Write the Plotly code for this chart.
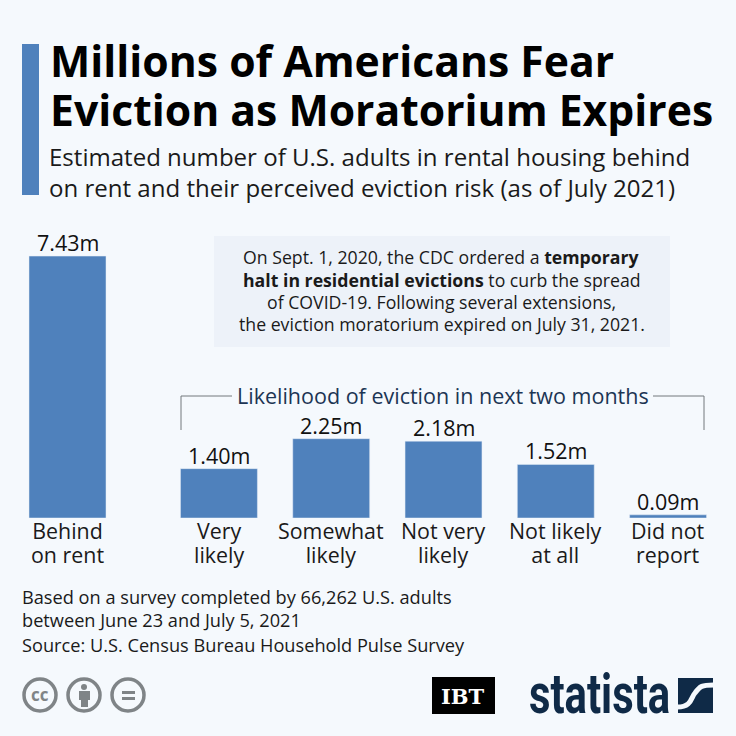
import plotly.graph_objects as go

W = H = 736
BG = "#f5f9fd"
BAR = "#4f81bc"
NAVY = "#0f2a47"
GREY = "#7f8487"
FONT = "Open Sans"

total_category = ["Behind<br>on rent"]
total_values = [7.43]
likelihood_categories = ["Very<br>likely", "Somewhat<br>likely", "Not very<br>likely", "Not likely<br>at all", "Did not<br>report"]
likelihood_values = [1.40, 2.25, 2.18, 1.52, 0.09]

title_lines = ["Millions of Americans Fear", "Eviction as Moratorium Expires"]
subtitle_lines = ["Estimated number of U.S. adults in rental housing behind",
                  "on rent and their perceived eviction risk (as of July 2021)"]
group_title = "Likelihood of eviction in next two months"
note_lines = ["On Sept. 1, 2020, the CDC ordered a <b>temporary</b>",
              "<b>halt in residential evictions</b> to curb the spread",
              "of COVID-19. Following several extensions,",
              "the eviction moratorium expired on July 31, 2021."]
footer_lines = ["Based on a survey completed by 66,262 U.S. adults",
                "between June 23 and July 5, 2021",
                "Source: U.S. Census Bureau Household Pulse Survey"]


def px(x):
    return x / W


def py(y):
    return 1 - y / H


fig = go.Figure()
fig.add_trace(go.Bar(x=total_category, y=total_values, xaxis="x", yaxis="y",
                     marker=dict(color=BAR), hoverinfo="skip"))
fig.add_trace(go.Bar(x=likelihood_categories, y=likelihood_values, xaxis="x2", yaxis="y",
                     marker=dict(color=BAR), hoverinfo="skip"))

shapes = []
annotations = []


def rect(x0, y0, x1, y1, color):
    shapes.append(dict(type="rect", xref="paper", yref="paper", x0=px(x0), x1=px(x1), y0=py(y0), y1=py(y1),
                       fillcolor=color, line=dict(width=0)))


def circle(cx, cy, r, fill, line_spec):
    shapes.append(dict(type="circle", xref="paper", yref="paper", x0=px(cx - r), x1=px(cx + r),
                       y0=py(cy + r), y1=py(cy - r), fillcolor=fill, line=line_spec))


def line(pts, color="#73787c", width=1):
    d = "M" + " L".join(f"{px(x)},{py(y)}" for x, y in pts)
    shapes.append(dict(type="path", xref="paper", yref="paper", path=d, line=dict(color=color, width=width)))


def txt(x, y, s, size, color="#1a1a1a", anchor="left", family=FONT):
    annotations.append(dict(x=px(x), y=py(y), xref="paper", yref="paper", text=s, showarrow=False,
                            xanchor=anchor, yanchor="middle", align=anchor,
                            font=dict(family=family, size=size, color=color)))


def bar_labels(xref, cats, vals):
    for c, v in zip(cats, vals):
        annotations.append(dict(x=c, y=v, xref=xref, yref="y", text=f"{v:.2f}m", showarrow=False,
                                xanchor="center", yanchor="bottom", yshift=-3,
                                font=dict(family=FONT, size=21.5, color="#111111", weight=500)))
        annotations.append(dict(x=c, y=py(544), xref=xref, yref="paper", text=c, showarrow=False,
                                xanchor="center", yanchor="middle", align="center",
                                font=dict(family=FONT, size=21.4, color="#1a1a1a")))


bar_labels("x", total_category, total_values)
bar_labels("x2", likelihood_categories, likelihood_values)

# header
rect(22, 44, 39, 195, BAR)
for s, y in zip(title_lines, [61, 110]):
    txt(47.5, y, f"<b>{s}</b>", 42.7, "#000000")
for s, y in zip(subtitle_lines, [157, 187]):
    txt(47, y, s, 24.05, "#1a1a1a")

# note box
rect(214, 236, 670, 347, "#edf2f9")
for s, y in zip(note_lines, [257, 280, 302, 324]):
    txt(442, y, s, 17.7, "#1a1a1a", "center")

# bracket
txt(442.5, 395, group_title, 21.5, "#1c3554", "center")
line([(181, 430), (181, 396), (232, 396)])
line([(653, 396), (704, 396), (704, 430)])

# footer
for s, y in zip(footer_lines, [597, 620, 645]):
    txt(20, y, s, 18.2, "#1a1a1a")

# cc icons
for cx in [40, 84, 128]:
    circle(cx, 695, 16, "rgba(0,0,0,0)", dict(color=GREY, width=3.5))
txt(40, 694, "<b>cc</b>", 17, GREY, "center")
circle(84, 687, 3, GREY, dict(width=0))
rect(79, 691, 90, 700, GREY)
rect(81, 700, 88, 707, GREY)
rect(122, 691, 135, 694, GREY)
rect(122, 697, 135, 700, GREY)

# logos
rect(432, 677, 495, 714, "#000000")
txt(463.5, 696, "<b>IBT</b>", 21, "#ffffff", "center", "DejaVu Serif")
txt(599, 694, "<b>statista</b>", 56, NAVY, "center", "Roboto")
rect(678, 678, 713, 713, NAVY)
shapes.append(dict(type="path", xref="paper", yref="paper", line=dict(color=BG, width=5),
                   path=(f"M{px(677.5)},{py(707)} C{px(692)},{py(707)} {px(691)},{py(697)} {px(695)},{py(693)}"
                         f" C{px(700)},{py(686)} {px(702)},{py(685)} {px(713.5)},{py(685)}")))

BOTTOM = 518
SCALE_TOP = 236
y_max = 8.0
axis_common = dict(type="category", showline=False, showgrid=False, ticks="", showticklabels=False, anchor="y")
fig.update_layout(
    width=W, height=H, autosize=False,
    margin=dict(l=0, r=0, t=0, b=0),
    paper_bgcolor=BG, plot_bgcolor="rgba(0,0,0,0)",
    showlegend=False, bargap=0.315,
    font=dict(family=FONT, color="#1a1a1a"),
    xaxis=dict(domain=[px(11.3), px(123.7)], **axis_common),
    xaxis2=dict(domain=[px(162.8), px(724.2)], **axis_common),
    yaxis=dict(domain=[py(BOTTOM), py(SCALE_TOP)], range=[0, y_max], visible=False),
    shapes=shapes, annotations=annotations,
)

post = """
document.body.style.margin='0';document.body.style.overflow='hidden';
document.querySelectorAll('.annotation-text').forEach(function(t){
  if(t.textContent==='statista'){t.style.transformBox='fill-box';t.style.transformOrigin='center';t.style.transform='scaleX(0.747)';}
  var lines=t.querySelectorAll('tspan.line');
  if(lines.length===2){lines[1].setAttribute('dy','1.12em');}
});
"""
fig.write_html("out.html", config=dict(displayModeBar=False), post_script=post)
